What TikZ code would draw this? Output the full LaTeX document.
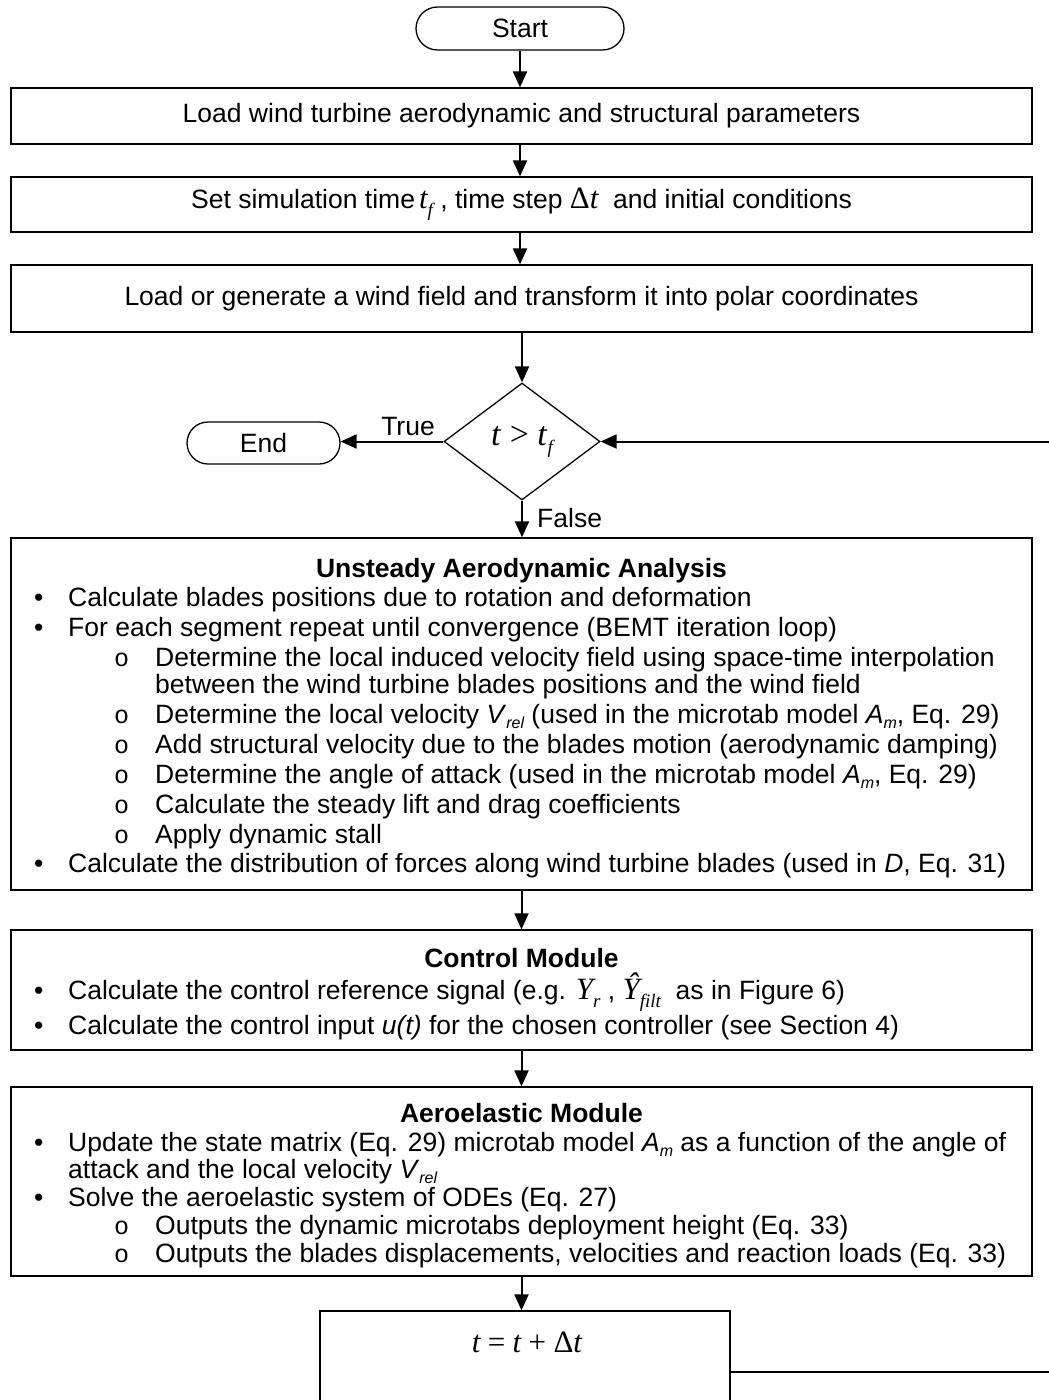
\documentclass[tikz,border=0pt]{standalone}
\usepackage{fontspec}
\setmainfont{Liberation Sans}
\newfontfamily\tms{Liberation Serif}
\newfontfamily\cour{Liberation Mono}
\usetikzlibrary{arrows.meta,shapes.geometric,shapes.misc}
\newcommand{\mt}[1]{{\fontsize{31}{31}\selectfont\tms\itshape #1}}
\newcommand{\mup}[1]{{\fontsize{31}{31}\selectfont\tms #1}}
\newcommand{\msub}[1]{\raisebox{-8pt}{\fontsize{19}{19}\selectfont\tms\itshape #1}}
\newcommand{\ssub}[1]{\raisebox{-5pt}{\fontsize{16}{16}\selectfont\itshape #1}}
\begin{document}
\begin{tikzpicture}[x=1pt,y=-1pt,
  font=\fontsize{26.5}{29}\selectfont,
  box/.style={draw, line width=1.3pt, inner sep=0pt, minimum width=1021pt},
  term/.style={draw, rounded rectangle, line width=1.3pt, inner sep=0pt},
  dia/.style={draw, diamond, line width=1.3pt, inner sep=0pt},
  arr/.style={line width=2pt, -{Triangle[length=16pt,width=14pt]}},
  lt/.style={anchor=west, inner sep=0pt, text height=25pt, text depth=6pt},
  ttl/.style={anchor=center, inner sep=0pt, text height=25pt, text depth=6pt, font=\fontsize{26.5}{29}\selectfont\bfseries},
  subb/.style={anchor=west, inner sep=0pt, text height=25pt, text depth=6pt, font=\fontsize{25}{25}\selectfont\cour}
]
\useasboundingbox (0,0) rectangle (1049,1400);
\clip (0,0) rectangle (1049,1400);

% terminators and process boxes
\node[term, minimum width=208pt, minimum height=43pt] (start) at (520,28.5) {Start};
\node[box, minimum height=56pt] (b1) at (521.5,116) {Load wind turbine aerodynamic and structural parameters};
\node[box, minimum height=55pt] (b2) at (521.5,204.5) {Set simulation time\hspace{4pt}\mt{t}\msub{f}\ , time step \mup{Δ}\mt{t}\ \ and initial conditions};
\node[box, minimum height=67pt] (b3) at (521.5,298.5) {Load or generate a wind field and transform it into polar coordinates};
\node[dia, minimum width=156pt, minimum height=117pt] (dec) at (522,441.5) {{\fontsize{34}{34}\selectfont\tms\textit{t} > \textit{t}}\msub{f}};
\node[term, minimum width=153pt, minimum height=42pt] (end) at (263.5,443) {End};
\node[box, minimum height=352pt] (b4) at (521.5,714) {};
\node[box, minimum height=120pt] (b5) at (521.5,990) {};
\node[box, minimum height=189pt] (b6) at (521.5,1181.5) {};
\node[draw, line width=1.3pt, inner sep=0pt, minimum width=410pt, minimum height=122pt] (b7) at (525,1372) {};
\node[inner sep=0pt] (b7t) at (527,1342) {\mt{t} \mup{=} \mt{t} \mup{+} \mup{Δ}\mt{t}};

% Unsteady aerodynamic analysis
\node[ttl] (u0) at (521.5,568) {Unsteady Aerodynamic Analysis};
\node[lt] (u1b) at (34,597) {•};
\node[lt] (u1) at (68,597) {Calculate blades positions due to rotation and deformation};
\node[lt] (u2b) at (34,627) {•};
\node[lt] (u2) at (68,627) {For each segment repeat until convergence (BEMT iteration loop)};
\node[subb] (u3b) at (114,657) {o};
\node[lt] (u3) at (155,657) {Determine the local induced velocity field using space-time interpolation};
\node[lt] (u4) at (155,684) {between the wind turbine blades positions and the wind field};
\node[subb] (u5b) at (114,714) {o};
\node[lt] (u5) at (155,714) {Determine the local velocity \textit{V}\ssub{rel} (used in the microtab model \textit{A}\ssub{m}, Eq. 29)};
\node[subb] (u6b) at (114,744) {o};
\node[lt] (u6) at (155,744) {Add structural velocity due to the blades motion (aerodynamic damping)};
\node[subb] (u7b) at (114,774) {o};
\node[lt] (u7) at (155,774) {Determine the angle of attack (used in the microtab model \textit{A}\ssub{m}, Eq. 29)};
\node[subb] (u8b) at (114,804) {o};
\node[lt] (u8) at (155,804) {Calculate the steady lift and drag coefficients};
\node[subb] (u9b) at (114,834) {o};
\node[lt] (u9) at (155,834) {Apply dynamic stall};
\node[lt] (u10b) at (34,863) {•};
\node[lt] (u10) at (68,863) {Calculate the distribution of forces along wind turbine blades (used in \textit{D}, Eq. 31)};

% Control module
\node[ttl] (c0) at (521.5,958) {Control Module};
\node[lt] (c1b) at (34,990) {•};
\node[lt] (c1) at (68,990) {Calculate the control reference signal (e.g. \mt{Y}\msub{r}\ , \mt{Ŷ}\msub{filt}\ \ as in Figure 6)};
\node[lt] (c2b) at (34,1025) {•};
\node[lt] (c2) at (68,1025) {Calculate the control input \textit{u(t)} for the chosen controller (see Section 4)};

% Aeroelastic module
\node[ttl] (a0) at (521.5,1113) {Aeroelastic Module};
\node[lt] (a1b) at (34,1142) {•};
\node[lt] (a1) at (68,1142) {Update the state matrix (Eq. 29) microtab model \textit{A}\ssub{m} as a function of the angle of};
\node[lt] (a2) at (68,1169) {attack and the local velocity \textit{V}\ssub{rel}};
\node[lt] (a3b) at (34,1197) {•};
\node[lt] (a3) at (68,1197) {Solve the aeroelastic system of ODEs (Eq. 27)};
\node[subb] (a4b) at (114,1225) {o};
\node[lt] (a4) at (155,1225) {Outputs the dynamic microtabs deployment height (Eq. 33)};
\node[subb] (a5b) at (114,1253) {o};
\node[lt] (a5) at (155,1253) {Outputs the blades displacements, velocities and reaction loads (Eq. 33)};

% connectors
\draw[arr] (start.south) -- (start.south |- b1.north);
\draw[arr] (start.south |- b1.south) -- (start.south |- b2.north);
\draw[arr] (start.south |- b2.south) -- (start.south |- b3.north);
\draw[arr] (dec.north |- b3.south) -- (dec.north);
\draw[arr] (dec.west) -- (dec.west -| end.east);
\node[inner sep=0pt] (tl) at (408,427) {True};
\draw[arr] (dec.south) -- (dec.south |- b4.north);
\node[anchor=west, inner sep=0pt] (fl) at (537,518) {False};
\draw[arr] (b4.south) -- (b5.north);
\draw[arr] (b5.south) -- (b6.north);
\draw[arr] (b6.south) -- (b6.south |- b7.north);
\coordinate (lc) at (1062,1372);
\draw[arr] (b7.east) -- (lc) |- (dec.east);
\end{tikzpicture}
\end{document}
